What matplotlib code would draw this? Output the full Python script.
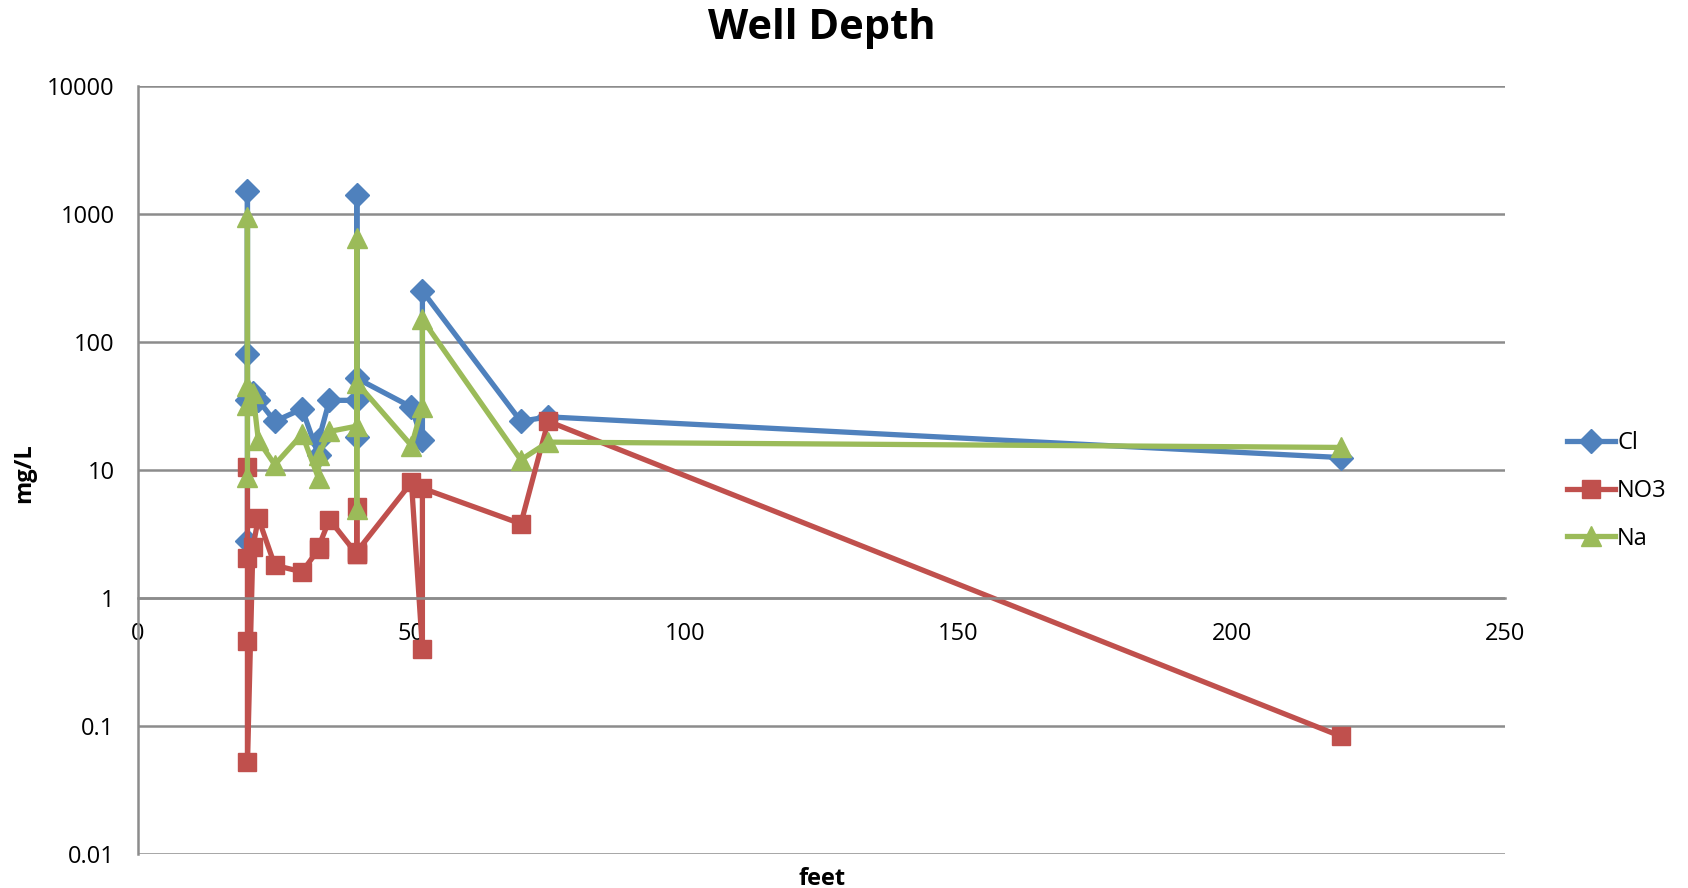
import matplotlib.pyplot as plt
from matplotlib.ticker import FixedLocator, NullLocator

plt.rcParams['font.family'] = ['Open Sans', 'DejaVu Sans']

# well depth (feet) and concentrations (mg/L), in sheet row order
depth = [20, 20, 20, 20, 21, 22, 25, 30, 33, 33, 35, 40, 40, 40, 40, 50, 52, 52, 70, 75, 220]
cl = [2.8, 1500, 80, 35, 40, 35, 24, 30, 13, 17, 35, 35, 1400, 18, 52, 31, 17, 250, 24, 26, 12.5]
no3 = [10.5, 2.05, 0.46, 0.052, 2.5, 4.2, 1.8, 1.6, 2.4, 2.5, 4.1, 2.2, 5.1, 2.2, 2.3, 8.0, 0.4, 7.2, 3.8, 24, 0.083]
na = [8.8, 950, 45, 32, 40, 17, 11, 19, 8.6, 13, 20, 22, 650, 5, 48, 15.5, 31, 150, 12, 16.5, 15]

y_ticks = [0.01, 0.1, 1, 10, 100, 1000, 10000]
y_labels = ['0.01', '0.1', '1', '10', '100', '1000', '10000']
x_ticks = [0, 50, 100, 150, 200, 250]

fig = plt.figure(figsize=(16.88, 8.88), dpi=100)
ax = fig.add_axes([0.0818, 0.0383, 0.8098, 0.8649])

ax.plot(depth, cl, color='#4F81BD', lw=3.8, marker='D', ms=12.5, label='Cl')
ax.plot(depth, no3, color='#C0504D', lw=3.8, marker='s', ms=13, label='NO3')
ax.plot(depth, na, color='#9BBB59', lw=3.8, marker='^', ms=14.5, label='Na')

ax.set_yscale('log')
ax.set_ylim(0.01, 10000)
ax.set_xlim(0, 250)
ax.yaxis.set_major_locator(FixedLocator(y_ticks))
ax.yaxis.set_minor_locator(NullLocator())
ax.set_yticklabels(y_labels)
ax.set_xticks(x_ticks)
ax.grid(axis='y', color='#8C8C8C', lw=1.8)
ax.set_axisbelow(True)

for s in ['top', 'right']:
    ax.spines[s].set_visible(False)
ax.spines['bottom'].set_position(('data', 1))
ax.spines['bottom'].set_color('#8C8C8C')
ax.spines['left'].set_color('#8C8C8C')
ax.spines['bottom'].set_linewidth(1.8)
ax.spines['left'].set_linewidth(1.8)
ax.tick_params(axis='y', length=0, pad=17, labelsize=17)
ax.tick_params(axis='x', length=0, pad=17, labelsize=17)

ax.set_title('Well Depth', fontsize=30, fontweight='bold', pad=34)
fig.text(0.487, -0.003, 'feet', ha='center', va='bottom', fontsize=17, fontweight='bold')
fig.text(0.014, 0.467, 'mg/L', ha='center', va='center', rotation=90, fontsize=17, fontweight='bold')

fig.legend(loc='center left', bbox_to_anchor=(0.916, 0.447), frameon=False,
           fontsize=17, handlelength=2.0, labelspacing=1.0, handletextpad=0.1)

plt.savefig('out.png')
